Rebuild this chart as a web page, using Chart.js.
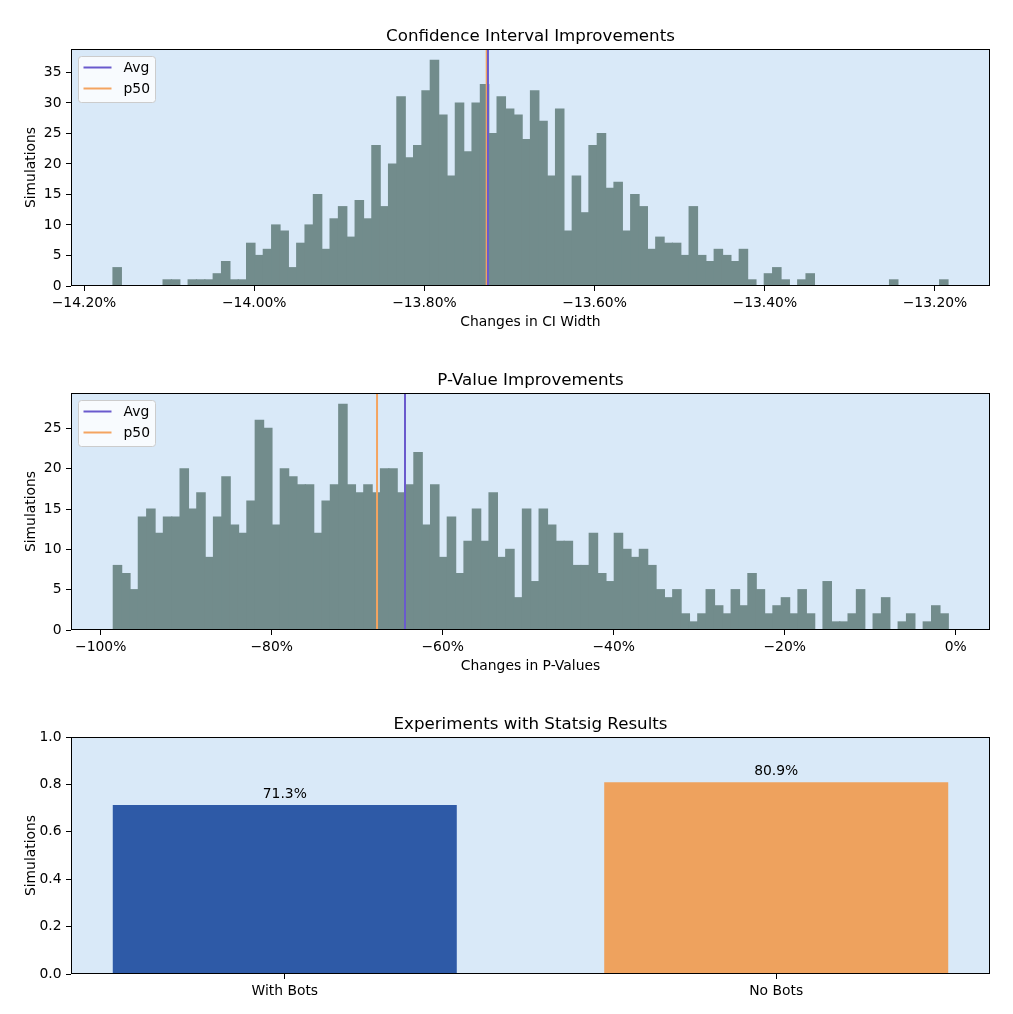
<!DOCTYPE html>
<html>
<head>
<meta charset="utf-8">
<script src="https://cdn.jsdelivr.net/npm/chart.js@4.4.1/dist/chart.umd.min.js"></script>
<style>
html,body{margin:0;padding:0;background:#ffffff;}
#wrap{position:relative;width:1013px;height:1014px;overflow:hidden;}
.pane{position:absolute;left:0;width:1013px;}
canvas{display:block;}
</style>
</head>
<body>
<div id="wrap">
  <div class="pane" style="top:0px;height:344px"><canvas id="c1" width="1013" height="344"></canvas></div>
  <div class="pane" style="top:344px;height:344px"><canvas id="c2" width="1013" height="344"></canvas></div>
  <div class="pane" style="top:688px;height:326px"><canvas id="c3" width="1013" height="326"></canvas></div>
</div>
<script>
// ---------------- DATA ----------------
// Chart 1: Confidence Interval Improvements (100-bin histogram, % change in CI width)
const CI_BIN_START = -14.16592;
const CI_BIN_WIDTH = 0.009812;
const ciCounts = [
  3,0,0,0,0,0,1,1,0,1,
  1,1,2,4,1,1,7,5,6,10,
  9,3,7,10,15,6,11,13,8,14,
  11,23,13,20,31,21,23,32,37,28,
  18,30,22,30,33,25,31,29,28,24,
  32,27,18,29,9,18,12,23,25,16,
  17,9,15,13,6,8,7,7,5,13,
  5,4,6,5,4,6,1,0,2,3,
  1,0,1,2,0,0,0,0,0,0,
  0,0,0,1,0,0,0,0,0,1
];
const ciAvg = -13.7253;
const ciP50 = -13.7268;
const ciTickValues = [-14.2, -14.0, -13.8, -13.6, -13.4, -13.2];
const ciTickLabels = ['\u221214.20%', '\u221214.00%', '\u221213.80%', '\u221213.60%', '\u221213.40%', '\u221213.20%'];
const ciYTicks = [0, 5, 10, 15, 20, 25, 30, 35];

// Chart 2: P-Value Improvements (100-bin histogram, % change in p-values)
const PV_BIN_START = -98.526;
const PV_BIN_WIDTH = 0.9766;
const pvCounts = [
  8,7,5,14,15,12,14,14,20,15,
  17,9,14,19,13,12,16,26,25,13,
  20,19,18,18,12,16,18,28,18,17,
  18,17,20,20,17,18,22,13,18,9,
  14,7,11,15,11,17,9,10,4,15,
  6,15,13,11,11,8,8,12,7,6,
  12,10,9,10,8,5,4,5,2,1,
  2,5,3,2,5,3,7,5,2,3,
  4,2,5,2,0,6,1,1,2,5,
  0,2,4,0,1,2,0,1,3,2
];
const pvAvg = -64.41;
const pvP50 = -67.68;
const pvTickValues = [-100, -80, -60, -40, -20, 0];
const pvTickLabels = ['\u2212100%', '\u221280%', '\u221260%', '\u221240%', '\u221220%', '0%'];
const pvYTicks = [0, 5, 10, 15, 20, 25];

// Chart 3: Experiments with Statsig Results
const expCategories = ['With Bots', 'No Bots'];
const expValues = [0.713, 0.809];
const expLabels = ['71.3%', '80.9%'];
const expYTicks = [0, 0.2, 0.4, 0.6, 0.8, 1.0];
const expYTickLabels = ['0.0', '0.2', '0.4', '0.6', '0.8', '1.0'];

// ---------------- STYLE ----------------
const PLOT_BG = '#d9e9f8';
const HIST_COLOR = '#728c8c';
const AVG_COLOR = '#6a5acd';
const P50_COLOR = '#f4a460';
const BAR_COLORS = ['#2e5aa7', '#eea25e'];
const FS = 13.89;

Chart.defaults.font.family = "'DejaVu Sans', sans-serif";
Chart.defaults.font.size = FS;
Chart.defaults.color = '#000000';

// ---------------- PLUGINS ----------------
const bgFrame = {
  id: 'bgFrame',
  beforeDraw(chart) {
    const {ctx, chartArea: a} = chart;
    ctx.save();
    ctx.fillStyle = '#ffffff';
    ctx.fillRect(0, 0, chart.width, chart.height);
    ctx.fillStyle = PLOT_BG;
    ctx.fillRect(a.left, a.top, a.right - a.left, a.bottom - a.top);
    ctx.restore();
  },
  afterDraw(chart) {
    const {ctx, chartArea: a} = chart;
    ctx.save();
    ctx.strokeStyle = '#000000';
    ctx.lineWidth = 1;
    ctx.strokeRect(a.left + 0.5, a.top + 0.5, a.right - a.left - 1, a.bottom - a.top - 1);
    ctx.restore();
  }
};

function roundRect(ctx, x, y, w, h, r) {
  ctx.beginPath();
  ctx.moveTo(x + r, y);
  ctx.arcTo(x + w, y, x + w, y + h, r);
  ctx.arcTo(x + w, y + h, x, y + h, r);
  ctx.arcTo(x, y + h, x, y, r);
  ctx.arcTo(x, y, x + w, y, r);
  ctx.closePath();
}

const insideLegend = {
  id: 'insideLegend',
  afterDatasetsDraw(chart, args, opts) {
    if (!opts || !opts.items) return;
    const {ctx, chartArea: a} = chart;
    const x0 = a.left + 7.5, y0 = a.top + 7.5, w = 77, h = 46;
    ctx.save();
    roundRect(ctx, x0, y0, w, h, 3);
    ctx.fillStyle = 'rgba(255,255,255,0.8)';
    ctx.fill();
    ctx.strokeStyle = '#cccccc';
    ctx.lineWidth = 1;
    ctx.stroke();
    opts.items.forEach((it, i) => {
      const y = y0 + 11 + i * 21;
      ctx.strokeStyle = it.color;
      ctx.lineWidth = 2;
      ctx.beginPath();
      ctx.moveTo(x0 + 5, y);
      ctx.lineTo(x0 + 33, y);
      ctx.stroke();
      ctx.fillStyle = '#000000';
      ctx.font = FS + "px 'DejaVu Sans', sans-serif";
      ctx.textBaseline = 'middle';
      ctx.textAlign = 'left';
      ctx.fillText(it.label, x0 + 45, y + 1);
    });
    ctx.restore();
  }
};

const barValueLabels = {
  id: 'barValueLabels',
  afterDatasetsDraw(chart, args, opts) {
    if (!opts || !opts.labels) return;
    const {ctx} = chart;
    const meta = chart.getDatasetMeta(0);
    ctx.save();
    ctx.fillStyle = '#000000';
    ctx.font = FS + "px 'DejaVu Sans', sans-serif";
    ctx.textAlign = 'center';
    ctx.textBaseline = 'middle';
    meta.data.forEach((el, i) => {
      ctx.fillText(opts.labels[i], el.x, el.y - 11);
    });
    ctx.restore();
  }
};

// ---------------- HELPERS ----------------
function axisGrid() {
  return {display: true, offset: false, drawOnChartArea: false, drawTicks: true, tickLength: 5,
          color: '#000000', lineWidth: 1};
}

const TITLE_PAD = {top: 26.5, bottom: 2.5};

function makeHist(id, opt) {
  const centers = opt.counts.map((_, i) => opt.binStart + (i + 0.5) * opt.binWidth);
  const histData = opt.counts.map((c, i) => ({x: centers[i], y: c}));
  return new Chart(document.getElementById(id), {
    type: 'bar',
    data: {
      datasets: [
        {type: 'line', label: 'Avg', data: [{x: opt.avg, y: 0}, {x: opt.avg, y: opt.yMax}],
         borderColor: AVG_COLOR, borderWidth: 2, pointRadius: 0, fill: false, order: 1},
        {type: 'line', label: 'p50', data: [{x: opt.p50, y: 0}, {x: opt.p50, y: opt.yMax}],
         borderColor: P50_COLOR, borderWidth: 2, pointRadius: 0, fill: false, order: 2},
        {type: 'bar', label: 'hist', data: histData, backgroundColor: HIST_COLOR,
         borderWidth: 0, barPercentage: 1, categoryPercentage: 1, inflateAmount: 0.6, order: 3}
      ]
    },
    options: {
      responsive: false,
      animation: false,
      events: [],
      layout: {padding: {left: 0, right: 23, top: 0, bottom: 0}},
      scales: {
        x: {
          type: 'linear', min: opt.xMin, max: opt.xMax, offset: false, bounds: 'data',
          afterBuildTicks: s => { s.ticks = opt.xTicks.map(v => ({value: v})); },
          afterFit: s => { s.height = 58; },
          grid: axisGrid(),
          border: {display: false},
          ticks: {padding: 4.5, autoSkip: false, maxRotation: 0, color: '#000000',
                  callback: (v, i) => opt.xLabels[i]},
          title: {display: true, text: opt.xTitle, color: '#000000', font: {size: FS},
                  padding: {top: 0, bottom: 13}}
        },
        y: {
          type: 'linear', min: 0, max: opt.yMax, bounds: 'data',
          afterBuildTicks: s => { s.ticks = opt.yTicks.map(v => ({value: v})); },
          afterFit: s => { s.width = 71; },
          grid: axisGrid(),
          border: {display: false},
          ticks: {padding: 4.5, color: '#000000', callback: v => String(v)},
          title: {display: true, text: 'Simulations', color: '#000000', font: {size: FS},
                  padding: {top: 22.7, bottom: 0}}
        }
      },
      plugins: {
        legend: {display: false},
        tooltip: {enabled: false},
        title: {display: true, text: opt.title, fullSize: false, color: '#000000',
                font: {size: 16.67, weight: 'normal'}, padding: TITLE_PAD},
        insideLegend: {items: [{label: 'Avg', color: AVG_COLOR}, {label: 'p50', color: P50_COLOR}]}
      }
    },
    plugins: [bgFrame, insideLegend]
  });
}

// ---------------- CHARTS ----------------
makeHist('c1', {
  counts: ciCounts, binStart: CI_BIN_START, binWidth: CI_BIN_WIDTH,
  avg: ciAvg, p50: ciP50, xMin: -14.21528, xMax: -13.13536, yMax: 38.85,
  xTicks: ciTickValues, xLabels: ciTickLabels, yTicks: ciYTicks,
  title: 'Confidence Interval Improvements', xTitle: 'Changes in CI Width'
});

makeHist('c2', {
  counts: pvCounts, binStart: PV_BIN_START, binWidth: PV_BIN_WIDTH,
  avg: pvAvg, p50: pvP50, xMin: -103.474, xMax: 4.0135, yMax: 29.4,
  xTicks: pvTickValues, xLabels: pvTickLabels, yTicks: pvYTicks,
  title: 'P-Value Improvements', xTitle: 'Changes in P-Values'
});

new Chart(document.getElementById('c3'), {
  type: 'bar',
  data: {
    datasets: [{
      label: 'Experiments',
      data: expValues.map((v, i) => ({x: i, y: v})),
      backgroundColor: BAR_COLORS,
      borderWidth: 0,
      barPercentage: 0.7,
      categoryPercentage: 1
    }]
  },
  options: {
    responsive: false,
    animation: false,
    events: [],
    layout: {padding: {left: 0, right: 23, top: 0, bottom: 0}},
    scales: {
      x: {
        type: 'linear', min: -0.435, max: 1.435, offset: false, bounds: 'data',
        afterBuildTicks: s => { s.ticks = expCategories.map((_, i) => ({value: i})); },
        afterFit: s => { s.height = 40; },
        grid: axisGrid(),
        border: {display: false},
        ticks: {padding: 4.5, autoSkip: false, maxRotation: 0, color: '#000000',
                callback: (v, i) => expCategories[i]}
      },
      y: {
        type: 'linear', min: 0, max: 1, bounds: 'data',
        afterBuildTicks: s => { s.ticks = expYTicks.map(v => ({value: v})); },
        afterFit: s => { s.width = 71; },
        grid: axisGrid(),
        border: {display: false},
        ticks: {padding: 4.5, color: '#000000', callback: (v, i) => expYTickLabels[i]},
        title: {display: true, text: 'Simulations', color: '#000000', font: {size: FS},
                padding: {top: 22.7, bottom: 0}}
      }
    },
    plugins: {
      legend: {display: false},
      tooltip: {enabled: false},
      title: {display: true, text: 'Experiments with Statsig Results', fullSize: false, color: '#000000',
              font: {size: 16.67, weight: 'normal'}, padding: TITLE_PAD},
      barValueLabels: {labels: expLabels}
    }
  },
  plugins: [bgFrame, barValueLabels]
});
</script>
</body>
</html>
